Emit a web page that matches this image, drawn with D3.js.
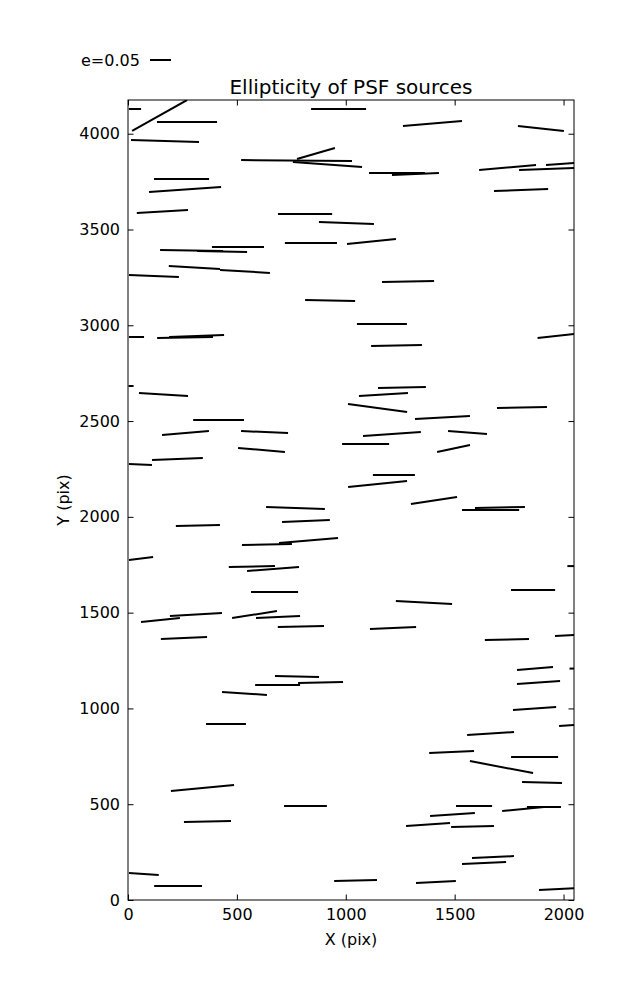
<!DOCTYPE html>
<html>
<head>
<meta charset="utf-8">
<script src="https://cdn.jsdelivr.net/npm/d3@7"></script>
<style>
  body { margin: 0; background: #fff; }
  svg { font-family: "DejaVu Sans", sans-serif; }
</style>
</head>
<body>
<svg id="chart" width="637" height="1000"></svg>
<script>
// Source centres (pix), ellipticity and position angle (deg)
const srcX = [32,145,967,271,170,774,916,863,246,262,158,813,1003,840,1118,292,432,505,305,537,119,928,1398,1896,1235,1320,1743,1922,1984,1805,1286,
  39,262,315,14,163,416,264,627,613,57,227,1146,1091,1146,1166,1233,1965,1258,1173,1444,1809,1212,1559,1495,1221,1405,
  769,817,321,638,829,60,569,666,673,149,312,581,689,794,257,776,687,884,535,1665,1708,2034,1860,1359,1217,1740,2007,1869,2039,1885,
  450,342,815,365,73,230,1045,1867,2016,1665,1486,1867,1715,1901,1589,1814,1910,1490,1378,1582,1676,1635,1414,1970];
const srcY = [4129,4095,4129,4061,3962,3860,3839,3897,3764,3709,3594,3581,3534,3430,3437,3390,3385,3409,3302,3281,3257,3129,4053,4027,3795,3790,3824,3816,3842,3706,3229,
  2939,2936,2944,2683,2639,2506,2438,2443,2349,2273,2302,2568,2380,2172,3007,2894,2944,2675,2639,2519,2571,2433,2440,2357,2219,2085,
  2046,1978,1955,1856,1877,1783,1741,1728,1608,1462,1490,1490,1477,1428,1368,1167,1122,1135,1078,2036,2049,1743,1618,1553,1420,1360,1381,1208,1208,1135,
  919,585,491,410,136,73,102,1000,911,869,773,746,694,613,491,475,485,446,394,384,224,193,94,57];
const srcE = [0.029,0.150,0.131,0.143,0.162,0.264,0.165,0.094,0.131,0.172,0.122,0.129,0.131,0.124,0.117,0.150,0.119,0.124,0.122,0.119,0.119,0.119,0.141,0.110,0.133,0.112,0.136,0.131,0.067,0.129,0.124,
  0.036,0.133,0.131,0.012,0.117,0.121,0.112,0.112,0.112,0.055,0.121,0.142,0.112,0.141,0.119,0.121,0.088,0.114,0.117,0.131,0.119,0.138,0.093,0.080,0.100,0.111,
  0.140,0.114,0.105,0.119,0.141,0.058,0.110,0.124,0.112,0.093,0.124,0.108,0.105,0.110,0.110,0.105,0.107,0.107,0.107,0.136,0.119,0.017,0.105,0.134,0.110,0.105,0.048,0.086,0.012,0.103,
  0.095,0.151,0.102,0.112,0.071,0.114,0.102,0.103,0.038,0.112,0.107,0.112,0.153,0.095,0.086,0.100,0.081,0.107,0.105,0.102,0.100,0.105,0.095,0.086];
const srcTheta = [0,29.4,0,0,-1.7,-0.5,-4.1,16.1,0,4.0,3.4,0,-2.1,0,5.8,-0.9,-1.1,0,-3.4,-3.4,-2.3,-1.1,4.8,-6.2,0,2.4,5.0,2.1,4.1,2.1,1.1,
  0,1.0,2.1,0,-3.5,0,4.9,-2.4,-4.9,-2.5,2.2,-7.7,0,5.8,0,1.1,6.2,1.2,3.5,3.1,1.1,3.9,-4.4,12.0,0,8.7,
  -1.9,2.4,1.3,1.1,4.8,7.1,1.2,4.4,0,5.9,3.3,8.8,2.6,1.2,2.5,-1.3,0,1.3,-3.8,0,1.1,0,0,-3.1,2.5,1.3,2.9,4.8,0,4.0,
  0,5.4,0,1.2,-3.8,0,1.3,4.0,3.6,3.7,2.5,0,-10.8,-1.4,0,5.4,0,3.8,3.9,1.3,2.7,2.6,2.9,3.2];

const xTicks = [0,500,1000,1500,2000];
const yTicks = [0,500,1000,1500,2000,2500,3000,3500,4000];
const keyE = 0.05;
const keyLabel = "e=0.05";
const titleText = "Ellipticity of PSF sources";
const xLabel = "X (pix)";
const yLabel = "Y (pix)";
const xMax = 2048, yMax = 4176;

const svg = d3.select("#chart");
const L = 128, R = 574, T = 100, B = 900;
const x = d3.scaleLinear().domain([0, xMax]).range([L, R]);
const y = d3.scaleLinear().domain([0, yMax]).range([B, T]);
const len = d3.scaleLinear().domain([0, keyE]).range([0, 21]);

const data = srcX.map((d, i) => ({x: d, y: srcY[i], e: srcE[i], t: srcTheta[i]}));

svg.append("defs").append("clipPath").attr("id", "clip")
  .append("rect").attr("x", L).attr("y", T).attr("width", R - L).attr("height", B - T);

svg.append("g").attr("clip-path", "url(#clip)")
  .selectAll("line").data(data).join("line")
  .attr("x1", d => x(d.x) - len(d.e) / 2 * Math.cos(d.t * Math.PI / 180))
  .attr("x2", d => x(d.x) + len(d.e) / 2 * Math.cos(d.t * Math.PI / 180))
  .attr("y1", d => y(d.y) + len(d.e) / 2 * Math.sin(d.t * Math.PI / 180))
  .attr("y2", d => y(d.y) - len(d.e) / 2 * Math.sin(d.t * Math.PI / 180))
  .attr("stroke", "#000").attr("stroke-width", 2);

// axes
const tick = 5.5;
const fs = "16px";
const gB = svg.append("g").attr("transform", `translate(0,${B})`)
  .call(d3.axisBottom(x).tickValues(xTicks).tickSizeInner(-tick).tickSizeOuter(0).tickPadding(9).tickFormat(d3.format("d")));
const gT = svg.append("g").attr("transform", `translate(0,${T})`)
  .call(d3.axisTop(x).tickValues(xTicks).tickSizeInner(-tick).tickSizeOuter(0).tickFormat(""));
const gL = svg.append("g").attr("transform", `translate(${L},0)`)
  .call(d3.axisLeft(y).tickValues(yTicks).tickSizeInner(-tick).tickSizeOuter(0).tickPadding(8).tickFormat(d3.format("d")));
const gR = svg.append("g").attr("transform", `translate(${R},0)`)
  .call(d3.axisRight(y).tickValues(yTicks).tickSizeInner(-tick).tickSizeOuter(0).tickFormat(""));
[gB, gT, gL, gR].forEach(g => {
  g.select(".domain").remove();
  g.selectAll("line").attr("stroke", "#000").attr("stroke-width", 1);
  g.selectAll("text").attr("fill", "#000").style("font-size", fs).style("font-family", "DejaVu Sans");
});
gB.selectAll("text").attr("dy", "0.71em");

svg.append("rect").attr("x", L).attr("y", T).attr("width", R - L).attr("height", B - T)
  .attr("fill", "none").attr("stroke", "#000").attr("stroke-width", 1);

svg.append("text").attr("x", (L + R) / 2).attr("y", 94).attr("text-anchor", "middle")
  .style("font-size", "20px").text(titleText);
svg.append("text").attr("x", (L + R) / 2).attr("y", 945).attr("text-anchor", "middle")
  .style("font-size", "16px").text(xLabel);
svg.append("text").attr("transform", `translate(69,500) rotate(-90)`).attr("text-anchor", "middle")
  .style("font-size", "16px").text(yLabel);

// key
svg.append("text").attr("x", 81).attr("y", 66).style("font-size", "16px").text(keyLabel);
svg.append("line").attr("x1", 150).attr("x2", 150 + len(keyE)).attr("y1", 60).attr("y2", 60)
  .attr("stroke", "#000").attr("stroke-width", 2);
</script>
</body>
</html>
